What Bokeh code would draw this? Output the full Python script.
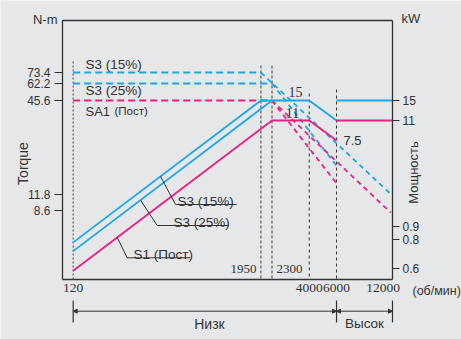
import numpy as np
from bokeh.plotting import figure
from bokeh.models import (Range1d, LinearAxis, FixedTicker, PrintfTickFormatter,
                          Label, Arrow, NormalHead)
from bokeh.embed import file_html
from bokeh.resources import INLINE

# ---------------- data ----------------
rpm_axis_ticks = [120, 4000, 6000, 12000]
rpm_marks = [1950, 2300]
torque_ticks = [73.4, 62.2, 45.6, 11.8, 8.6]
power_ticks = [15, 11, 0.9, 0.8, 0.6]

# constant-torque region (N-m), dashed
s3_15_torque_rpm = [120, 1950]
s3_15_torque = [73.4, 73.4]
s3_25_torque_rpm = [120, 2300]
s3_25_torque = [62.2, 62.2]
s1_torque_rpm = [120, 2300]
s1_torque = [45.6, 45.6]

# torque fall-off (N-m), dashed
s3_15_falloff_rpm = [1950, 13400]
s3_15_falloff = [73.4, 12.0]
s3_25_falloff_rpm = [2300, 6000]
s3_25_falloff = [62.2, 22.2]
s1_falloff_long_rpm = [2300, 13400]
s1_falloff_long = [45.6, 8.2]
s1_falloff_short_rpm = [2300, 6000]
s1_falloff_short = [45.6, 15.8]

# power curves (kW), low-speed winding
s3_15_power_rpm = [120, 1950, 4000, 6000]
s3_15_power = [0.78, 15, 15, 11]
s3_25_power_rpm = [120, 2300]
s3_25_power = [0.72, 15]
s1_power_rpm = [120, 2300, 4000, 6000]
s1_power = [0.585, 11, 11, 7.5]
# high-speed winding (to the end of the speed axis)
high_s3_power = [15, 15]
high_s1_power = [11, 11]

# ---------------- schematic (non-linear) vertical scale ----------------
torque_scale_values = [73.4, 62.2, 45.6, 11.8, 8.6]
torque_scale_pos = [72, 83, 100, 194, 210]
power_scale_values = [15, 11, 7.5, 0.9, 0.8, 0.6]
power_scale_pos = [100, 120, 140, 226, 239, 268]

# ---------------- layout ----------------
W, H = 461, 339
F_LEFT, F_TOP, F_RIGHT, F_BOTTOM = 62, 20, 392, 279
PX_PER_DECADE = 155.0
PX_AT_120 = 72.7

CYAN = "#1ba8e2"
MAGENTA = "#e8207f"
TXT = "#333333"
BG = "#e6e7e9"


def scale(v, vals, pos):
    vals = np.asarray(vals, float)
    pos = np.asarray(pos, float)
    o = np.argsort(vals)
    vals, pos = vals[o], pos[o]
    v = np.atleast_1d(np.asarray(v, float))
    out = np.interp(v, vals, pos)
    lo = v < vals[0]
    hi = v > vals[-1]
    out[lo] = pos[0] + (v[lo] - vals[0]) * (pos[1] - pos[0]) / (vals[1] - vals[0])
    out[hi] = pos[-1] + (v[hi] - vals[-1]) * (pos[-1] - pos[-2]) / (vals[-1] - vals[-2])
    return out


def T(v):
    return scale(v, torque_scale_values, torque_scale_pos)


def P(v):
    return scale(v, power_scale_values, power_scale_pos)


def xr(px):
    # horizontal page position -> rpm on the log speed scale
    return float(120 * 10 ** ((px - PX_AT_120) / PX_PER_DECADE))


X_AX0, X_AX1 = xr(F_LEFT), xr(F_RIGHT)
high_rpm = [6000, X_AX1]

p = figure(x_axis_type="log", x_range=Range1d(xr(0), xr(W)),
           y_range=Range1d(H, 0),
           width=W, height=H,
           min_border_left=0, min_border_right=0, min_border_top=0,
           min_border_bottom=0,
           output_backend="svg", toolbar_location=None,
           background_fill_color=BG, border_fill_color=BG,
           outline_line_color=None)
p.grid.visible = False

# x axis (speed)
xa = p.xaxis[0]
xa.fixed_location = F_BOTTOM
xa.bounds = (X_AX0, X_AX1)
xa.ticker = FixedTicker(ticks=rpm_axis_ticks)
xa.formatter = PrintfTickFormatter(format="%d")
xa.major_tick_out = 0
xa.major_tick_in = 0
xa.minor_tick_out = 0
xa.minor_tick_in = 0
xa.axis_line_color = TXT
xa.axis_line_width = 1.3
xa.major_label_text_font = "Liberation Serif"
xa.major_label_text_font_size = "13.5px"
xa.major_label_text_color = TXT
xa.major_label_standoff = 4

# left (torque) axis
tpos = [int(round(v)) for v in T(torque_ticks)]
ya = p.yaxis[0]
ya.fixed_location = X_AX0
ya.bounds = (F_TOP, F_BOTTOM)
ya.ticker = FixedTicker(ticks=tpos)
ya.major_label_overrides = {k: str(v) for k, v in zip(tpos, torque_ticks)}
ya.major_tick_out = 8
ya.major_tick_in = 0
ya.minor_tick_out = 0
ya.minor_tick_in = 0
ya.axis_line_color = TXT
ya.axis_line_width = 1.3
ya.major_tick_line_color = TXT
ya.major_label_text_font = "Liberation Sans"
ya.major_label_text_font_size = "12px"
ya.major_label_text_color = TXT
ya.major_label_standoff = 4

# right (power) axis
ppos = [int(round(v)) for v in P(power_ticks)]
ra = LinearAxis(ticker=FixedTicker(ticks=ppos), fixed_location=X_AX1,
                bounds=(F_TOP, F_BOTTOM),
                major_label_overrides={k: str(v) for k, v in zip(ppos, power_ticks)},
                major_tick_out=7, major_tick_in=0, minor_tick_out=0, minor_tick_in=0,
                axis_line_color=TXT, axis_line_width=1.3, major_tick_line_color=TXT,
                major_label_text_font="Liberation Sans", major_label_text_font_size="12px",
                major_label_text_color=TXT, major_label_standoff=3)
p.add_layout(ra, "right")

# top border of the chart box
p.line([X_AX0, X_AX1], [F_TOP, F_TOP], line_color=TXT, line_width=1.3)

# vertical guides
guide_rpm = [120, 1950, 2300, 4000, 6000]
guide_top = [61, 65, 65, 93, 89]
guide_col = ["#666666", "#777777", "#777777", "#333333", "#333333"]
guide_dash = ["2 2", "3 2", "3 2", "3 3", "3 3"]
guide_w = [1.3, 1.5, 1.5, 1.0, 1.0]
for r, t, c, d, w in zip(guide_rpm, guide_top, guide_col, guide_dash, guide_w):
    p.line([r, r], [t, F_BOTTOM], line_color=c, line_dash=d, line_width=w)

# torque dashed lines
DASH = "7 4"
p.line(s3_15_torque_rpm, T(s3_15_torque), line_color=CYAN, line_width=1.8, line_dash=DASH)
p.line(s3_25_torque_rpm, T(s3_25_torque), line_color=CYAN, line_width=1.8, line_dash=DASH)
p.line(s1_torque_rpm, T(s1_torque), line_color=MAGENTA, line_width=1.8, line_dash=DASH)
FD = "5 4"
p.line(s3_15_falloff_rpm, T(s3_15_falloff), line_color=CYAN, line_width=1.8, line_dash=FD)
p.line(s3_25_falloff_rpm, T(s3_25_falloff), line_color=CYAN, line_width=1.8, line_dash=FD)
p.line(s1_falloff_long_rpm, T(s1_falloff_long), line_color=MAGENTA, line_width=1.8, line_dash=FD)
p.line(s1_falloff_short_rpm, T(s1_falloff_short), line_color=MAGENTA, line_width=1.8, line_dash=FD)

# power solid lines
p.line(s3_15_power_rpm, P(s3_15_power), line_color=CYAN, line_width=1.8)
p.line(s3_25_power_rpm, P(s3_25_power), line_color=CYAN, line_width=1.8)
p.line(s1_power_rpm, P(s1_power), line_color=MAGENTA, line_width=1.8)
p.line(high_rpm, P(high_s3_power), line_color=CYAN, line_width=1.8)
p.line(high_rpm, P(high_s1_power), line_color=MAGENTA, line_width=1.8)


def on_line(rpms, ypos, px):
    lx = np.log10(rpms)
    return float(np.interp(np.log10(xr(px)), lx, ypos))


def lab(text, px, py, size, font="Liberation Sans", align="left",
        baseline="middle", angle=0.0):
    p.add_layout(Label(x=xr(px), y=py, text=text, text_font=font,
                       text_font_size=f"{size}px", text_align=align,
                       text_baseline=baseline, angle=angle, text_color=TXT))


# leader lines with labels
leaders = [
    (s3_15_power_rpm, P(s3_15_power), 160, 175, 204, 236, "S3 (15%)", 177),
    (s3_25_power_rpm, P(s3_25_power), 140, 156.7, 225, 228, "S3 (25%)", 173),
    (s1_power_rpm, P(s1_power), 116.7, 126.7, 257.3, 190, "S1 (Пост)", 133),
]
for rp, yp, sx, ex, ey, endx, txt, tx in leaders:
    sy = on_line(rp, yp, sx)
    p.line([xr(sx), xr(ex), xr(endx)], [sy, ey, ey], line_color=TXT, line_width=1)
    lab(txt, tx, ey - 3, 13.5, baseline="alphabetic")

# in-plot labels
lab("S3 (15%)", 85, 64, 13.5)
lab("S3 (25%)", 85, 90, 13.5)
lab("SA1", 85, 110.7, 13)
lab("(Пост)", 114, 110.7, 11.5)
lab("15", 295, 91, 14, font="Liberation Serif", align="center")
lab("11", 292, 112, 14, font="Liberation Serif", align="center")
lab("7.5", 352, 140, 13, align="center")
lab(str(rpm_marks[0]), 256, 268, 13, font="Liberation Serif", align="right")
lab(str(rpm_marks[1]), 276, 268, 13, font="Liberation Serif", align="left")

# outside-the-box labels
lab("N-m", 57, 19, 13, align="right")
lab("kW", 401, 18, 13)
lab("Torque", 22, 163, 14, align="center", angle=np.pi / 2)
lab("Мощность", 413, 172, 13, align="center", angle=np.pi / 2)
lab("(об/мин)", 412, 290, 12.5)
lab("Низк", 209, 323, 14, align="center")
lab("Высок", 364, 323, 13.5, align="center")

# range bracket below axis
BR_Y = 310.7
for r in [120, 6000, X_AX1]:
    p.add_layout(Arrow(x_start=r, y_start=300, x_end=r, y_end=322, end=None,
                       line_color=TXT, line_width=1.2))
for a, b in [(120, 6000), (6000, X_AX1)]:
    p.add_layout(Arrow(x_start=a, y_start=BR_Y, x_end=b, y_end=BR_Y,
                       start=NormalHead(size=4, line_color=TXT, fill_color=TXT, line_width=1),
                       end=NormalHead(size=4, line_color=TXT, fill_color=TXT, line_width=1),
                       line_color=TXT, line_width=1))

open("out.html", "w").write(file_html(p, INLINE, title="chart"))
